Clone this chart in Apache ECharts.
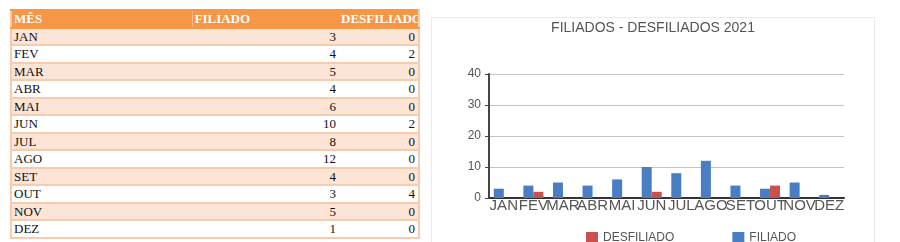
<!DOCTYPE html>
<html>
<head>
<meta charset="utf-8">
<script src="https://cdn.jsdelivr.net/npm/echarts@6/dist/echarts.min.js"></script>
<style>
  html, body { margin: 0; padding: 0; background: #fff; width: 900px; height: 242px; overflow: hidden; }
  #tbl {
    position: absolute; left: 10px; top: 9px; width: 408px;
    border-collapse: collapse; table-layout: fixed;
    font-family: "Liberation Serif", "Times New Roman", serif; font-size: 13px; color: #111;
  }
  #tbl th, #tbl td {
    height: 15.5px; padding: 0 3px 0 2px; line-height: 15px;
    border-top: 2px solid #F8CBAD; border-bottom: 2px solid #F8CBAD;
    white-space: nowrap; overflow: hidden;
  }
  #tbl th { background: #F79646; color: #fff; font-weight: bold; text-align: left; border-color: #F79646; }
  #tbl th.num { text-align: right; padding-right: 0; }
  #tbl th.mid { border-left: 1px solid #F9B98A; }
  #tbl td.num { text-align: right; }
  #tbl tr td:first-child, #tbl tr th:first-child { border-left: 2px solid #F8CBAD; }
  #tbl tr td:last-child, #tbl tr th:last-child { border-right: 2px solid #F8CBAD; }
  #tbl tr.shade td { background: #FCE4D6; }
  #panel {
    position: absolute; left: 431px; top: 17px; width: 442px; height: 240px;
    border: 1px solid #ebebeb; background: #fff;
  }
  #chart { width: 442px; height: 224px; }
</style>
</head>
<body>
<table id="tbl"></table>
<div id="panel"><div id="chart"></div></div>
<script>
// Monthly affiliations and disaffiliations, 2021
const months = ['JAN', 'FEV', 'MAR', 'ABR', 'MAI', 'JUN', 'JUL', 'AGO', 'SET', 'OUT', 'NOV', 'DEZ'];
const filiado = [3, 4, 5, 4, 6, 10, 8, 12, 4, 3, 5, 1];
const desfiliado = [0, 2, 0, 0, 0, 2, 0, 0, 0, 4, 0, 0];
const headers = ['MÊS', 'FILIADO', 'DESFILIADO'];
const yTicks = [0, 10, 20, 30, 40];

// Table
const tbl = document.getElementById('tbl');
let html = '<colgroup><col style="width:181px"><col style="width:147px"><col style="width:80px"></colgroup>';
html += '<tr><th>' + headers[0] + '</th><th class="mid">' + headers[1] + '</th><th class="num">' + headers[2] + '</th></tr>';
months.forEach((m, i) => {
  html += '<tr class="' + (i % 2 === 0 ? 'shade' : '') + '"><td>' + m + '</td><td class="num">' + filiado[i] +
          '</td><td class="num">' + desfiliado[i] + '</td></tr>';
});
tbl.innerHTML = html;

// Chart
const chart = echarts.init(document.getElementById('chart'), null, { renderer: 'canvas' });
const FONT = 'Arial, "Liberation Sans", sans-serif';
chart.setOption({
  animation: false,
  title: {
    text: 'FILIADOS - DESFILIADOS 2021',
    left: 'center', top: -2,
    textStyle: { fontFamily: FONT, fontSize: 14, fontWeight: 'normal', color: '#555' }
  },
  legend: {
    data: ['DESFILIADO', 'FILIADO'],
    left: 149, top: 209,
    itemWidth: 12, itemHeight: 12, itemGap: 58, itemStyle: { borderWidth: 0 },
    textStyle: { fontFamily: FONT, fontSize: 12, color: '#555' },
    icon: 'rect'
  },
  grid: { left: 57, right: 30, top: 56, height: 124 },
  xAxis: {
    type: 'category',
    data: months,
    axisLine: { lineStyle: { color: '#333', width: 2 } },
    axisTick: { show: false },
    axisLabel: { interval: 0, margin: 0, fontFamily: FONT, fontSize: 15, color: '#555', hideOverlap: false }
  },
  yAxis: {
    type: 'value',
    min: yTicks[0], max: yTicks[yTicks.length - 1], interval: 10,
    axisLine: { show: true, lineStyle: { color: '#444', width: 2 } },
    axisTick: { show: true, length: 4, lineStyle: { color: '#444' } },
    axisLabel: { margin: 8, fontFamily: FONT, fontSize: 12, color: '#555' },
    splitLine: { lineStyle: { color: '#c4c4c4', width: 1 } }
  },
  series: [
    {
      name: 'FILIADO', type: 'bar', data: filiado,
      barWidth: 10, barGap: '0%',
      itemStyle: { color: '#4A7EC4' }
    },
    {
      name: 'DESFILIADO', type: 'bar', data: desfiliado,
      barWidth: 10, barGap: '0%',
      itemStyle: { color: '#C9504D' }
    }
  ]
});
</script>
</body>
</html>
